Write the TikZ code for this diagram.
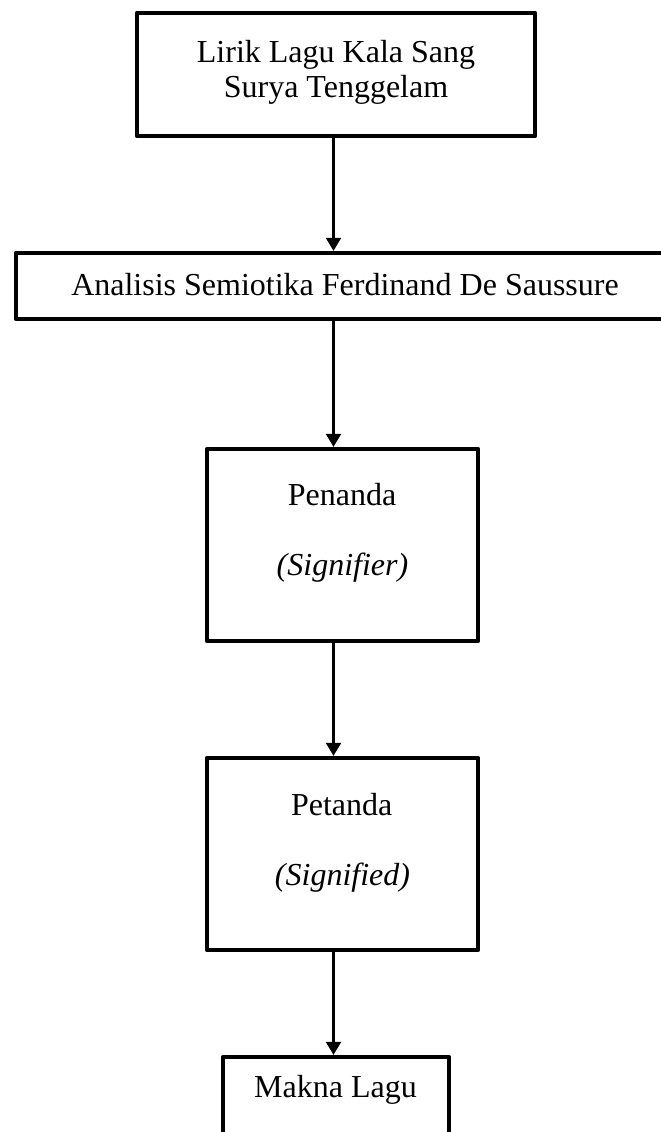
\documentclass[tikz,border=0pt]{standalone}
\usepackage{fontspec}
\setmainfont{Liberation Serif}
\usetikzlibrary{arrows.meta}
\tikzset{
  boxnode/.style={draw, line width=4.3pt, line join=round, inner sep=0pt, fill=none},
  lbl/.style={inner sep=0pt, anchor=base, font=\fontsize{32}{38}\selectfont},
  arr/.style={line width=2.2pt, -{Triangle[length=13pt,width=15pt]}}
}
\begin{document}
\begin{tikzpicture}[x=1pt,y=-1pt]
\useasboundingbox (0,0) rectangle (661,1132);
\fill[white] (0,0) rectangle (661,1132);
% boxes
\node[boxnode, minimum width=398pt, minimum height=123pt] (b1) at (336,74.5) {};
\node[boxnode, minimum width=674pt, minimum height=66pt] (b2) at (353,286) {};
\node[boxnode, minimum width=271pt, minimum height=192pt] (b3) at (342.5,545) {};
\node[boxnode, minimum width=271pt, minimum height=192pt] (b4) at (342.5,854) {};
\node[boxnode, minimum width=226pt, minimum height=143pt] (b5) at (336,1128.5) {};
% texts
\node[lbl] (t1a) at (336,63) {Lirik Lagu Kala Sang};
\node[lbl] (t1b) at (336,97) {Surya Tenggelam};
\node[lbl] (t2) at (345,295) {Analisis Semiotika Ferdinand De Saussure};
\node[lbl] (t3a) at (342,505) {Penanda};
\node[lbl] (t3b) at (342.5,575) {\itshape (Signifier)};
\node[lbl] (t4a) at (341.7,815) {Petanda};
\node[lbl] (t4b) at (342.5,885) {\itshape (Signified)};
\node[lbl] (t5) at (335.5,1097) {Makna Lagu};
% connectors
\coordinate (ax) at (333.5,0);
\draw[arr] (b1.south -| ax) -- (b2.north -| ax);
\draw[arr] (b2.south -| ax) -- (b3.north -| ax);
\draw[arr] (b3.south -| ax) -- (b4.north -| ax);
\draw[arr] (b4.south -| ax) -- (b5.north -| ax);
\end{tikzpicture}
\end{document}
